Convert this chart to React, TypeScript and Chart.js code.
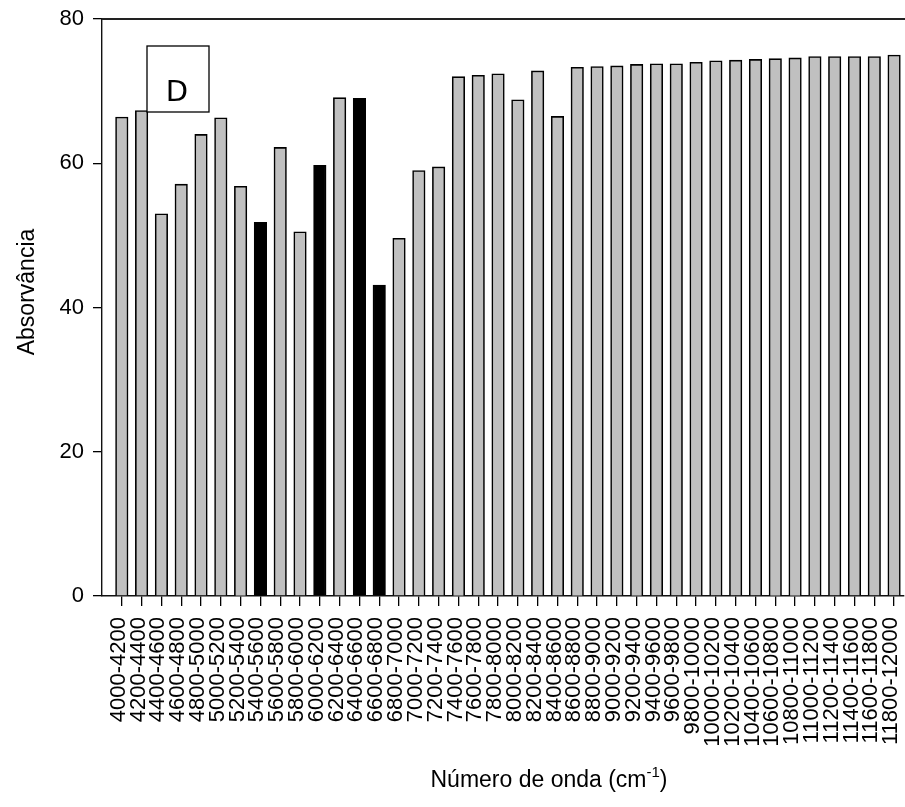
import React, { useEffect, useRef } from "react";
import { Chart, registerables } from "chart.js";

Chart.register(...registerables);

const categories = [
  "4000-4200", "4200-4400", "4400-4600", "4600-4800", "4800-5000",
  "5000-5200", "5200-5400", "5400-5600", "5600-5800", "5800-6000",
  "6000-6200", "6200-6400", "6400-6600", "6600-6800", "6800-7000",
  "7000-7200", "7200-7400", "7400-7600", "7600-7800", "7800-8000",
  "8000-8200", "8200-8400", "8400-8600", "8600-8800", "8800-9000",
  "9000-9200", "9200-9400", "9400-9600", "9600-9800", "9800-10000",
  "10000-10200", "10200-10400", "10400-10600", "10600-10800", "10800-11000",
  "11000-11200", "11200-11400", "11400-11600", "11600-11800", "11800-12000",
];

const absorbance = [
  66.4, 67.3, 53.0, 57.1, 64.0, 66.3, 56.8, 51.8, 62.2, 50.5,
  59.7, 69.1, 69.0, 43.1, 49.6, 59.0, 59.5, 72.0, 72.2, 72.4,
  68.8, 72.8, 66.5, 73.3, 73.4, 73.5, 73.7, 73.8, 73.8, 74.0,
  74.2, 74.3, 74.4, 74.5, 74.6, 74.8, 74.8, 74.8, 74.8, 75.0,
];

// ranges highlighted in black
const highlighted = ["5400-5600", "6000-6200", "6400-6600", "6600-6800"];

const yTicks = [0, 20, 40, 60, 80];
const yTitle = "Absorvância";
const xTitleMain = "Número de onda (cm";
const xTitleSup = "-1";
const xTitleEnd = ")";
const panelLabel = "D";

const FONT = "'Liberation Sans', Arial, sans-serif";

const decorPlugin = {
  id: "decor",
  afterDraw(chart: any) {
    const ctx = chart.ctx;
    const a = chart.chartArea;
    ctx.save();
    // top frame line
    ctx.strokeStyle = "#222";
    ctx.lineWidth = 1.8;
    ctx.beginPath();
    ctx.moveTo(a.left, a.top);
    ctx.lineTo(chart.width, a.top);
    ctx.stroke();

    // panel label box
    ctx.fillStyle = "#fff";
    ctx.fillRect(147, 46, 62, 66);
    ctx.strokeStyle = "#000";
    ctx.lineWidth = 1.3;
    ctx.strokeRect(147, 46, 62, 66);
    ctx.fillStyle = "#000";
    ctx.font = "29px 'DejaVu Sans', sans-serif";
    ctx.textAlign = "center";
    ctx.textBaseline = "alphabetic";
    ctx.fillText(panelLabel, 177, 101);

    // y title
    ctx.save();
    ctx.translate(34, 292);
    ctx.rotate(-Math.PI / 2);
    ctx.font = `23px ${FONT}`;
    ctx.textAlign = "center";
    ctx.textBaseline = "alphabetic";
    ctx.fillText(yTitle, 0, 0);
    ctx.restore();

    // x title with superscript
    const big = `23px ${FONT}`;
    const small = `15px ${FONT}`;
    ctx.font = big;
    const w1 = ctx.measureText(xTitleMain).width;
    const w3 = ctx.measureText(xTitleEnd).width;
    ctx.font = small;
    const w2 = ctx.measureText(xTitleSup).width;
    const total = w1 + w2 + w3;
    const cx = 549;
    const base = 787;
    let x = cx - total / 2;
    ctx.textAlign = "left";
    ctx.font = big;
    ctx.fillText(xTitleMain, x, base);
    x += w1;
    ctx.font = small;
    ctx.fillText(xTitleSup, x, base - 10);
    x += w2;
    ctx.font = big;
    ctx.fillText(xTitleEnd, x, base);
    ctx.restore();
  },
};

export default function App() {
  const ref = useRef<HTMLCanvasElement | null>(null);

  useEffect(() => {
    if (!ref.current) return;
    const colors = categories.map((c) => (highlighted.includes(c) ? "#000000" : "#C0C0C0"));
    const chart = new Chart(ref.current, {
      type: "bar",
      data: {
        datasets: [
          {
            data: absorbance.map((v, i) => ({ x: i, y: v })),
            backgroundColor: colors,
            borderColor: "#000000",
            borderWidth: 1.6,
            barThickness: 12.5,
          },
        ],
      },
      options: {
        responsive: false,
        animation: false,
        events: [],
        layout: { padding: { top: 19, right: 1, left: 0, bottom: 0 } },
        plugins: {
          legend: { display: false },
          tooltip: { enabled: false },
          title: { display: false },
        },
        scales: {
          x: {
            type: "linear",
            min: -1,
            max: 39.5,
            offset: false,
            afterBuildTicks: (scale: any) => {
              scale.ticks = categories.map((_, i) => ({ value: i }));
            },
            afterFit: (scale: any) => {
              scale.height = 211;
              scale.paddingLeft = 0;
              scale.paddingRight = 0;
            },
            ticks: {
              autoSkip: false,
              minRotation: 90,
              maxRotation: 90,
              padding: 11,
              labelOffset: -3,
              color: "#000",
              font: { family: FONT, size: 22 },
              callback: (v: any) => categories[Math.round(Number(v))] ?? "",
            },
            grid: {
              offset: false,
              drawOnChartArea: false,
              drawTicks: true,
              tickLength: 10,
              color: "#000",
              lineWidth: 1.3,
            },
            border: { display: true, color: "#111", width: 1.6 },
          },
          y: {
            type: "linear",
            min: 0,
            max: 80,
            afterBuildTicks: (scale: any) => {
              scale.ticks = yTicks.map((v) => ({ value: v }));
            },
            afterFit: (scale: any) => {
              scale.width = 102;
              scale.paddingTop = 0;
              scale.paddingBottom = 0;
            },
            ticks: {
              padding: 9,
              color: "#000",
              font: { family: FONT, size: 22 },
            },
            grid: {
              drawOnChartArea: false,
              drawTicks: true,
              tickLength: 9,
              color: "#000",
              lineWidth: 1.3,
            },
            border: { display: true, color: "#111", width: 1.4 },
          },
        },
      },
      plugins: [decorPlugin],
    });
    return () => chart.destroy();
  }, []);

  return (
    <div style={{ position: "absolute", left: 0, top: 0, width: 905, height: 807, background: "#fff" }}>
      <canvas ref={ref} width={905} height={807} />
    </div>
  );
}
